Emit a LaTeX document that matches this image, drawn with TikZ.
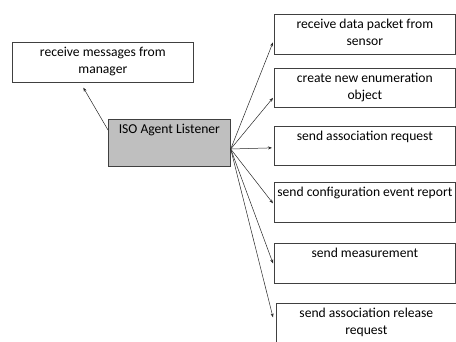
\documentclass[tikz,border=0pt]{standalone}
\usepackage{fontspec}
\setmainfont{Carlito}
\usetikzlibrary{arrows.meta}
\begin{document}
\begin{tikzpicture}[x=1pt,y=-1pt,
  box/.style={draw=black!75,line width=0.7pt,fill=white,anchor=north west,inner sep=0pt},
  isobox/.style={box,fill=black!25},
  txt/.style={anchor=north,align=center,inner sep=0pt,font=\fontsize{13.6}{16.5}\selectfont},
  arr/.style={draw=black!85,line width=0.5pt,-{Stealth[length=4pt,width=3pt]}}]
\clip (0,0) rectangle (456,341);
\useasboundingbox (0,0) rectangle (456,341);
% left box
\node[box,minimum width=181,minimum height=40] (mgr) at (12,42) {};
\node[txt] (mgrt) at ([yshift=-5]mgr.north) {receive messages from\\manager};
% central
\node[isobox,minimum width=122,minimum height=47] (iso) at (108,119) {};
\node[txt] (isot) at ([yshift=-5]iso.north) {ISO Agent Listener};
% right boxes
\node[box,minimum width=181,minimum height=40] (b1) at (274,14) {};
\node[txt] (b1t) at ([yshift=-5]b1.north) {receive data packet from\\sensor};
\node[box,minimum width=181,minimum height=39] (b2) at (274,68) {};
\node[txt] (b2t) at ([yshift=-5]b2.north) {create new enumeration\\object};
\node[box,minimum width=181,minimum height=39] (b3) at (274,126) {};
\node[txt] (b3t) at ([yshift=-5]b3.north) {send association request};
\node[box,minimum width=181,minimum height=40] (b4) at (274,182) {};
\node[txt] (b4t) at ([yshift=-5]b4.north) {send configuration event report};
\node[box,minimum width=181,minimum height=40] (b5) at (274,243) {};
\node[txt] (b5t) at ([yshift=-5]b5.north) {send measurement};
\node[box,minimum width=180,minimum height=45] (b6) at (276,303) {};
\node[txt] (b6t) at ([yshift=-5]b6.north) {send association release\\request};
% connectors
\coordinate (src) at ([yshift=-30]iso.north east);
\draw[arr] ([yshift=-11]iso.north west) -- ([xshift=-19.5,yshift=-5]mgr.south);
\draw[arr] (src) -- ([xshift=-1,yshift=-8]b1.west);
\draw[arr] (src) -- ([xshift=-1,yshift=-10]b2.west);
\draw[arr] (src) -- ([xshift=-2,yshift=-2]b3.west);
\draw[arr] (src) -- ([xshift=-1,yshift=-1]b4.west);
\draw[arr] (src) -- ([xshift=-1,yshift=0]b5.west);
\draw[arr] (src) -- ([xshift=-3,yshift=8.5]b6.west);
\end{tikzpicture}
\end{document}
